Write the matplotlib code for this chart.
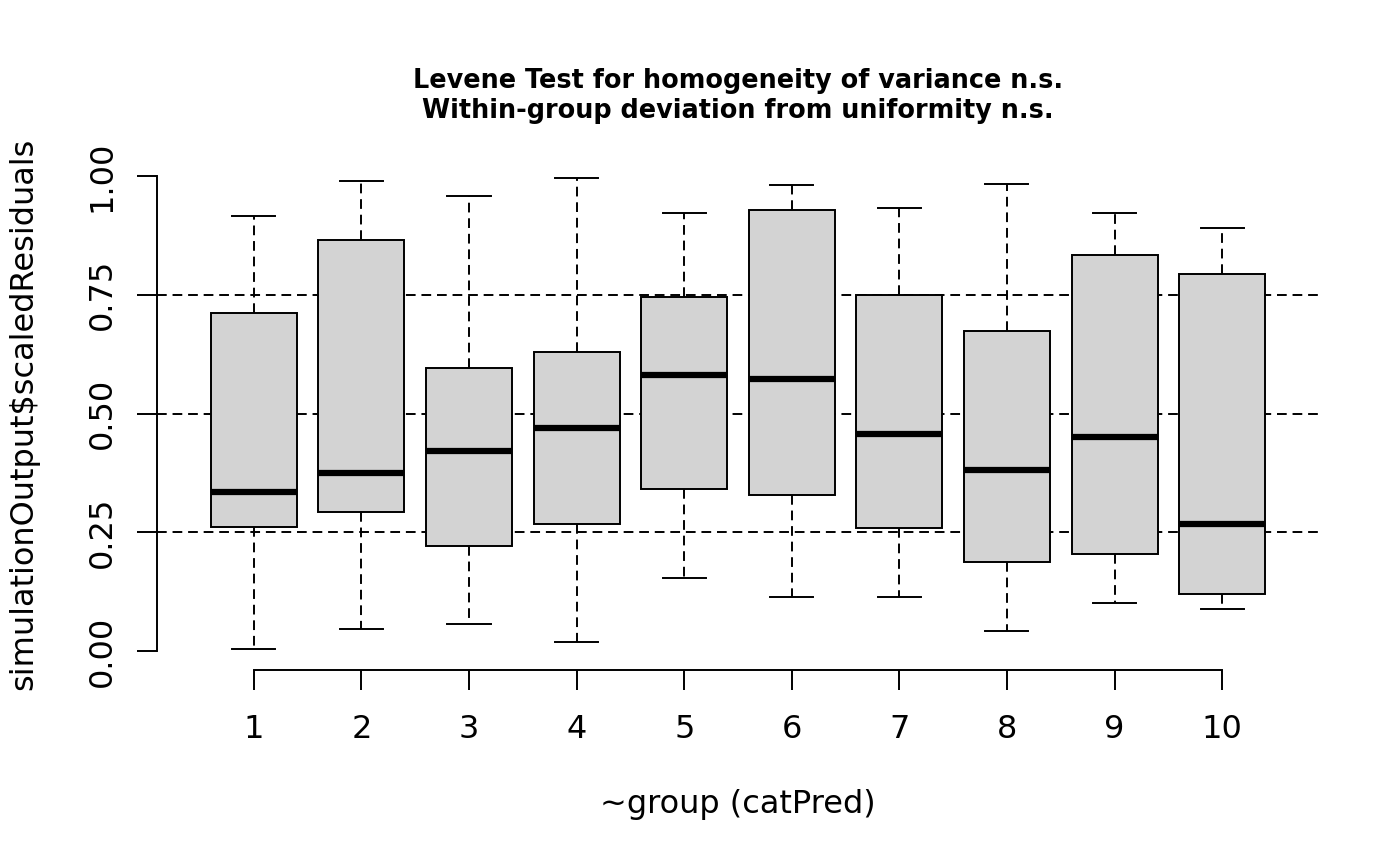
import matplotlib
matplotlib.use("Agg")
import matplotlib.pyplot as plt

plt.rcParams['font.family'] = ['DejaVu Sans']

groups = [1, 2, 3, 4, 5, 6, 7, 8, 9, 10]
whisker_low = [0.004, 0.046, 0.057, 0.019, 0.154, 0.114, 0.114, 0.042, 0.101, 0.088]
q1 = [0.261, 0.293, 0.221, 0.267, 0.341, 0.328, 0.259, 0.187, 0.204, 0.120]
medians = [0.335, 0.375, 0.421, 0.469, 0.581, 0.573, 0.457, 0.381, 0.451, 0.267]
q3 = [0.712, 0.865, 0.596, 0.629, 0.745, 0.928, 0.749, 0.674, 0.834, 0.794]
whisker_high = [0.916, 0.989, 0.958, 0.996, 0.922, 0.981, 0.933, 0.983, 0.922, 0.891]
ref_lines = [0.25, 0.5, 0.75]
y_ticks = [0.0, 0.25, 0.5, 0.75, 1.0]
y_ticklabels = ["0.00", "0.25", "0.50", "0.75", "1.00"]

stats = []
for i in range(len(groups)):
    stats.append({
        "whislo": whisker_low[i], "q1": q1[i], "med": medians[i],
        "q3": q3[i], "whishi": whisker_high[i], "fliers": [],
    })

fig = plt.figure(figsize=(14, 8.66), dpi=100)
W, H = 1400, 866
ax = fig.add_axes([157 / W, 1 - 670 / H, (1319 - 157) / W, (670 - 157) / H])

dash = (0, (5, 3))
lw = 1.4

for y in ref_lines:
    ax.axhline(y, color="black", linestyle=dash, linewidth=lw, zorder=1)

ax.bxp(stats, positions=groups, widths=0.8, patch_artist=True,
       showfliers=False,
       boxprops=dict(facecolor="#D3D3D3", edgecolor="black", linewidth=lw),
       medianprops=dict(color="black", linewidth=4.5, solid_capstyle="butt"),
       whiskerprops=dict(color="black", linestyle=dash, linewidth=lw),
       capprops=dict(color="black", linewidth=lw),
       capwidths=0.4, zorder=2)

ax.set_xlim(0.1, 10.9)
ax.set_ylim(-0.04, 1.04)

for side in ["top", "right"]:
    ax.spines[side].set_visible(False)
ax.spines["left"].set_bounds(0, 1)
ax.spines["bottom"].set_bounds(1, 10)
ax.spines["left"].set_linewidth(lw)
ax.spines["bottom"].set_linewidth(lw)

ax.set_xticks(groups)
ax.set_xticklabels([str(g) for g in groups], fontsize=23)
ax.set_yticks(y_ticks)
ax.set_yticklabels(y_ticklabels, fontsize=23, rotation=90, va="center")
ax.tick_params(axis="both", length=14.4, width=lw, direction="out")
ax.tick_params(axis="x", pad=17)
ax.tick_params(axis="y", pad=14)

ax.set_xlabel("~group (catPred)", fontsize=23, labelpad=32)
ax.set_ylabel("simulationOutput$scaledResiduals", fontsize=23, labelpad=34)
ax.set_title("Levene Test for homogeneity of variance n.s.\nWithin-group deviation from uniformity n.s.",
             fontsize=18.4, fontweight="bold", pad=28, linespacing=1.2)

fig.savefig("out.png", dpi=100)
